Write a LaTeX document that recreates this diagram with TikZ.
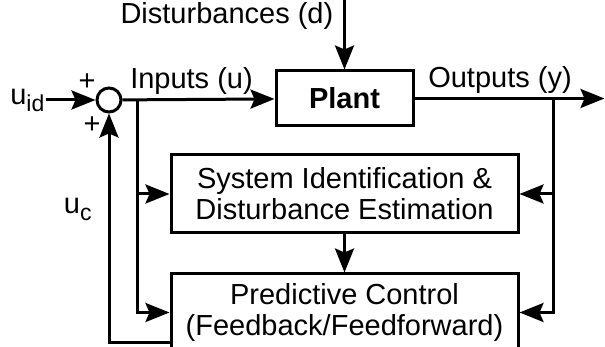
\documentclass[tikz,border=0pt]{standalone}
\usepackage{fontspec}
\setmainfont{Liberation Sans}
\usetikzlibrary{positioning, arrows.meta}

\newcommand{\lowsub}[1]{\raisebox{-7pt}{\fontsize{23}{23}\selectfont #1}}

\begin{document}
\begin{tikzpicture}
			[x=1pt, y=1pt, node distance=20pt, font=\fontsize{29}{31}\selectfont]
			
			\tikzstyle{block} = [rectangle, draw=black, line width=3pt, align=center, inner sep=0pt, minimum width=347pt]
			
			\tikzstyle{sum} = [circle, draw=black, line width=3pt, minimum size=24pt, inner sep=0pt]
			
			\tikzstyle{arrow} = [line width=3pt, -{Stealth[length=24pt, width=19pt, inset=4pt]}]
			
			\useasboundingbox (0,0) rectangle (605,347);
			
			\node (plant) [block, minimum width=137pt, minimum height=55pt] at (344.5,248.5) {\textbf{Plant}};
			\node (sysid) [block, minimum height=78pt, below=26pt of plant] {System Identification \&\\Disturbance Estimation};
			\node (pc) [block, minimum height=77pt, below=38pt of sysid] {Predictive Control\\(Feedback/Feedforward)};
			\node (sum) [sum, left=152pt of plant, yshift=-1.5pt] {};
			\node (uid) [left=50pt of sum, inner sep=1pt] {u\lowsub{id}};
			
			\coordinate [above=71pt of plant.north] (dtop);
			\coordinate [right=15pt of sum] (ub);
			\coordinate [right=139pt of plant.east] (yb);
			\coordinate [right=190pt of plant.east] (yend);
			\coordinate (pcout) at ([yshift=10pt]pc.south west);
			
			\node (dist) [left=11pt of dtop, yshift=-18pt, inner sep=0pt] {Disturbances (d)};
			\node (pup) at ([shift={(-22,18)}]sum) {+};
			\node (pdn) at ([shift={(-17,-25)}]sum) {+};
			
			\draw [arrow] (uid) -- (sum);
			\draw [arrow] (dtop) -- (plant);
			\draw [arrow] (sum) -- node [above, xshift=-7pt]{Inputs (u)} (plant);
			\draw [arrow] (plant) -- node [above, pos=0.45]{Outputs (y)} (yend);
			\draw [arrow] (ub) |- (sysid);
			\draw [arrow] (ub) |- (pc);
			\draw [arrow] (yb) |- (sysid);
			\draw [arrow] (yb) |- (pc);
			\draw [arrow] (sysid) -- (pc);
			\draw [arrow] (pcout) -| node [pos=0.79, left=16pt, inner sep=0pt]{u\lowsub{c}} (sum);
			
		\end{tikzpicture}
\end{document}
